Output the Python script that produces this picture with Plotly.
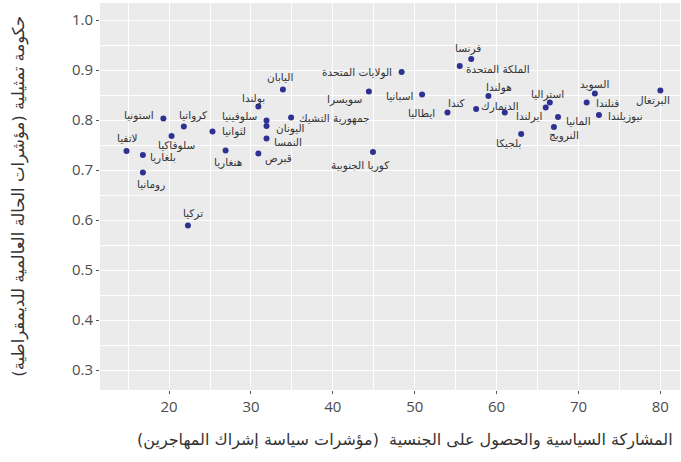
import plotly.graph_objects as go

countries = ["اليابان", "بولندا", "سلوفينيا", "اليونان", "النمسا", "جمهورية التشيك", "قبرص",
             "لثوانيا", "هنغاريا", "كرواتيا", "استونيا", "سلوفاكيا", "لاتفيا", "بلغاريا", "رومانيا",
             "تركيا", "فرنسا", "الملكة المتحدة", "الولايات المتحدة", "سويسرا", "اسبانيا", "هولندا",
             "ايطاليا", "كندا", "الدنمارك", "بلجيكا", "كوريا الجنوبية", "استراليا", "ايرلندا",
             "المانيا", "النرويج", "السويد", "فنلندا", "نيوزيلندا", "البرتغال"]
x_vals = [33.9, 30.9, 31.9, 31.9, 31.9, 34.9, 30.9,
          25.3, 26.9, 21.8, 19.3, 20.3, 14.8, 16.8, 16.8,
          22.3, 56.9, 55.5, 48.4, 44.4, 50.9, 59.0,
          54.0, 57.5, 61.0, 63.0, 44.9, 66.5, 66.0,
          67.5, 67.0, 72.0, 71.0, 72.5, 80.0]
y_vals = [0.861, 0.827, 0.799, 0.788, 0.763, 0.805, 0.733,
          0.777, 0.739, 0.787, 0.803, 0.768, 0.738, 0.730, 0.695,
          0.589, 0.922, 0.908, 0.896, 0.857, 0.851, 0.848,
          0.815, 0.822, 0.815, 0.772, 0.736, 0.835, 0.825,
          0.806, 0.786, 0.853, 0.835, 0.810, 0.859]

x_ticks = [20, 30, 40, 50, 60, 70, 80]
y_ticks = [0.3, 0.4, 0.5, 0.6, 0.7, 0.8, 0.9, 1.0]
x_title = "المشاركة السياسية والحصول على الجنسية  (مؤشرات سياسة إشراك المهاجرين)\u200f"
y_title = "حكومة تمثيلية (مؤشرات الحالة العالمية للديمقراطية)\u200f"

# label placement (style): anchor, pixel dx, pixel dy (down positive)
label_pos = [("center", -3, -13), ("center", -5, -8), ("right", -8, -4), ("left", 7, 2),
             ("left", 5, 3), ("left", 6, 1), ("left", 5, 5), ("left", 7, 0),
             ("center", 2, 12), ("center", 9, -11), ("right", -7, -3), ("center", 5, 9),
             ("center", 1, -13), ("left", 5, 2), ("center", 8, 12), ("center", 5, -12),
             ("center", -3, -11), ("left", 4, 3), ("right", -8, 0), ("right", -5, 8),
             ("right", -7, 1), ("center", 11, -9), ("right", -10, 0), ("center", -20, -6),
             ("center", -5, -6), ("center", -13, 9), ("center", -13, 13), ("center", -2, -8),
             ("right", -2, 9), ("left", 6, 4), ("center", 10, 8), ("center", 0, -9),
             ("left", 7, 0), ("left", 7, 1), ("center", -7, 10)]

fig = go.Figure()
fig.add_trace(go.Scatter(x=x_vals, y=y_vals, mode="markers",
                         marker=dict(color="#2e3192", size=6), hoverinfo="text",
                         text=countries, showlegend=False))

annotations = []
for name, xv, yv, (anc, dx, dy) in zip(countries, x_vals, y_vals, label_pos):
    annotations.append(dict(x=xv, y=yv, xref="x", yref="y", text=name, showarrow=False,
                            xanchor=anc, yanchor="middle", xshift=dx, yshift=-dy,
                            font=dict(family="DejaVu Sans", size=10.5, color="#333333")))

annotations.append(dict(x=1, y=-0.13, xref="paper", yref="paper", text=x_title,
                        showarrow=False, xanchor="right", yanchor="middle", xshift=-5,
                        font=dict(family="DejaVu Sans", size=16, color="#333333")))
annotations.append(dict(x=-0.141, y=0.5, xref="paper", yref="paper", text=y_title,
                        showarrow=False, xanchor="center", yanchor="middle", textangle=-90,
                        font=dict(family="DejaVu Sans", size=16.5, color="#333333")))

fig.update_layout(
    width=681, height=462,
    margin=dict(l=100, r=1, t=3, b=72),
    plot_bgcolor="#ebebeb", paper_bgcolor="white",
    annotations=annotations,
    xaxis=dict(range=[11.56, 82.4], tickvals=x_ticks, ticks="outside", ticklen=3,
               tickcolor="#555555", showgrid=True, gridcolor="white", gridwidth=1.3,
               zeroline=False, tickfont=dict(family="Open Sans", size=15, color="#4d4d4d"),
               minor=dict(dtick=5, tick0=15, showgrid=True, gridcolor="white", gridwidth=0.6)),
    yaxis=dict(range=[0.26, 1.034], tickvals=y_ticks, ticktext=[f"{v:.1f}" for v in y_ticks],
               ticks="outside", ticklen=3, tickcolor="#555555", showgrid=True,
               gridcolor="white", gridwidth=1.3, zeroline=False,
               tickfont=dict(family="Open Sans", size=15, color="#4d4d4d"),
               minor=dict(dtick=0.05, tick0=0.25, showgrid=True, gridcolor="white", gridwidth=0.6)),
)

fig.write_html("out.html", config={"displayModeBar": False},
               post_script="document.body.style.margin='0';")
